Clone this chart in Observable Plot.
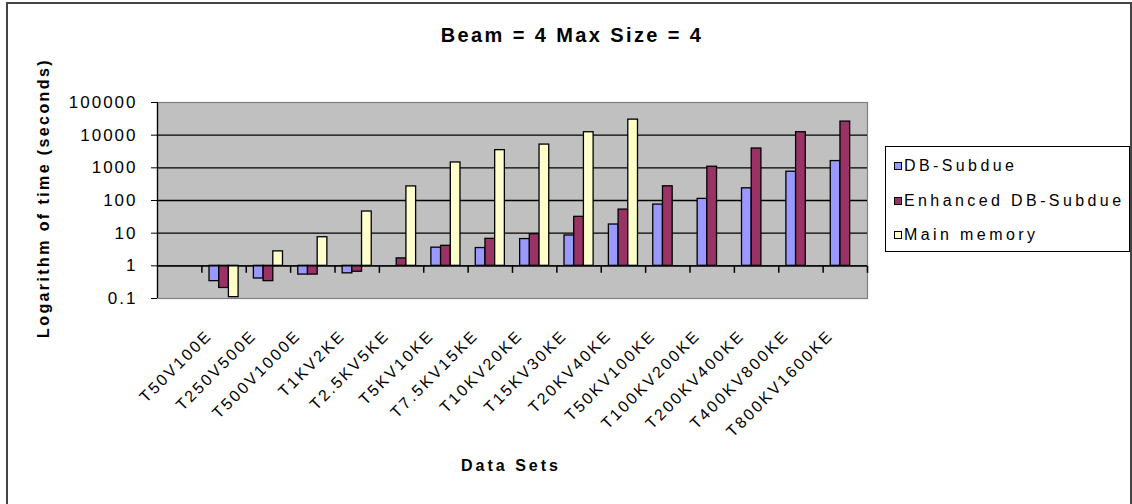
<!DOCTYPE html>
<html>
<head>
<meta charset="utf-8">
<script src="https://cdn.jsdelivr.net/npm/d3@7"></script>
<script src="https://cdn.jsdelivr.net/npm/@observablehq/plot@0.6"></script>
<style>
  body { margin: 0; background: #fff; }
  #chart { position: relative; width: 1132px; height: 504px; overflow: hidden;
           font-family: "Liberation Sans", Arial, sans-serif; color: #000; }
  #chart svg { position: absolute; left: 0; top: 0; }
  #outer { position: absolute; left: 6px; top: 2px; width: 1126px; height: 520px;
           border: 2px solid #444; box-sizing: border-box; }
  .abs { position: absolute; white-space: nowrap; }
  #title { left: 572px; top: 24px; transform: translateX(-50%); font-weight: bold;
           font-size: 20px; letter-spacing: 2.4px; }
  #ylabel { left: 44px; top: 198px; transform: translate(-50%, -50%) rotate(-90deg);
            font-weight: bold; font-size: 16px; letter-spacing: 2.4px; }
  #xlabel { left: 511px; top: 457px; transform: translateX(-50%); font-weight: bold;
            font-size: 16px; letter-spacing: 3px; }
  #legend { left: 885px; top: 146px; width: 245px; height: 106px; border: 1px solid #000;
            box-sizing: border-box; background: #fff; }
  .item { position: absolute; left: 8px; height: 20px; font-size: 16px; letter-spacing: 3.4px;
          line-height: 20px; }
  .sw { display: inline-block; width: 8px; height: 8px; border: 1px solid #000;
        margin-right: 2px; vertical-align: 1px; box-sizing: border-box; }
  [aria-label="y-axis tick label"] text { letter-spacing: 2px; }
  .xlab text { letter-spacing: 2.4px; }
</style>
</head>
<body>
<div id="chart">
  <div id="outer"></div>
</div>
<script>
// ---- data ----
const categories = ["T50V100E","T250V500E","T500V1000E","T1KV2KE","T2.5KV5KE","T5KV10KE",
  "T7.5KV15KE","T10KV20KE","T15KV30KE","T20KV40KE","T50KV100KE","T100KV200KE",
  "T200KV400KE","T400KV800KE","T800KV1600KE"];
const seriesNames = ["DB-Subdue", "Enhanced DB-Subdue", "Main memory"];
const dbSubdue   = [0.34, 0.41, 0.54, 0.59, null, 3.6, 3.5, 6.6, 8.5, 18.4, 75, 112, 236, 760, 1610];
const enhanced   = [0.21, 0.34, 0.54, 0.66, 1.69, 4.1, 6.7, 9.3, 31.6, 52.7, 272, 1080, 3900, 12300, 26000];
const mainMemory = [0.11, 2.77, 7.5, 46, 270, 1460, 3480, 5150, 12300, 29900, null, null, null, null, null];
const yTicks = [0.1, 1, 10, 100, 1000, 10000, 100000];
const colors = ["#9999ff", "#993366", "#ffffcc"];

// ---- layout ----
const W = 1132, H = 504;
const mL = 157, mR = 265, mT = 102, mB = 206;
const domainX = [""].concat(categories);       // an empty first category, as in the sheet
const step = (W - mL - mR) / domainX.length;
const barW = 9.7;
const gap = (step - 3 * barW) / 2;
const decadePx = (H - mT - mB) / Math.log10(yTicks[yTicks.length - 1] / yTicks[0]);
const tickLenPx = 7;
const tickEnd = Math.pow(10, -tickLenPx / decadePx);   // value 7px below the baseline 1
const boundaries = categories.map(c => ({cat: c, side: -1}))
  .concat([{cat: categories[categories.length - 1], side: 1}]);

const table = [];
[dbSubdue, enhanced, mainMemory].forEach((vals, s) => {
  vals.forEach((v, i) => { if (v != null) table.push({cat: categories[i], series: seriesNames[s], s, value: v}); });
});

const barMarks = seriesNames.map((name, s) =>
  Plot.rectY(table.filter(d => d.s === s), {
    x: "cat", y1: 1, y2: "value",
    fill: colors[s], stroke: "#000", strokeWidth: 1.3,
    insetLeft: gap + s * barW, insetRight: step - gap - (s + 1) * barW
  })
);

const plot = Plot.plot({
  width: W, height: H,
  marginLeft: mL, marginRight: mR, marginTop: mT, marginBottom: mB,
  style: {fontFamily: '"Liberation Sans", Arial, sans-serif', background: "transparent", color: "#000"},
  x: {type: "band", domain: domainX, paddingInner: 0, paddingOuter: 0, round: false, axis: null},
  y: {type: "log", domain: [0.1, 100000], axis: null},
  marks: [
    Plot.frame({fill: "#c0c0c0", stroke: "#808080", strokeWidth: 1.2}),
    Plot.ruleY([1, 10, 100, 1000, 10000], {stroke: "#000", strokeWidth: 1.3}),
    ...barMarks,
    Plot.ruleY([1], {stroke: "#000", strokeWidth: 1.3}),
    Plot.ruleX([domainX[0]], {x: d => d, dx: -step / 2, stroke: "#000", strokeWidth: 1.3}),
    Plot.link(boundaries.filter(b => b.side < 0), {x1: "cat", x2: "cat", y1: () => 1, y2: () => tickEnd,
              dx: -step / 2, stroke: "#000", strokeWidth: 1.5}),
    Plot.link(boundaries.filter(b => b.side > 0), {x1: "cat", x2: "cat", y1: () => 1, y2: () => tickEnd,
              dx: step / 2, stroke: "#000", strokeWidth: 1.5}),
    Plot.axisY({ticks: yTicks, tickFormat: d => String(d), tickSize: 6, tickPadding: 14,
                fontSize: 17, label: null, stroke: "#000"}),
    Plot.text(categories, {x: d => d, frameAnchor: "bottom", dy: 38, dx: -11, rotate: -45,
                textAnchor: "end", lineAnchor: "bottom", fontSize: 16, className: "xlab"})
  ]
});
const chart = document.getElementById("chart");
chart.appendChild(plot);

function addDiv(id, text) {
  const d = document.createElement("div");
  d.className = "abs"; d.id = id; d.textContent = text;
  chart.appendChild(d);
  return d;
}
addDiv("title", "Beam = 4 Max Size = 4");
addDiv("ylabel", "Logarithm of time (seconds)");
addDiv("xlabel", "Data Sets");
const leg = document.createElement("div");
leg.className = "abs"; leg.id = "legend";
seriesNames.forEach((name, s) => {
  const it = document.createElement("div");
  it.className = "item";
  it.style.top = (9 + s * 34.5) + "px";
  const sw = document.createElement("span");
  sw.className = "sw"; sw.style.background = colors[s];
  it.appendChild(sw);
  it.appendChild(document.createTextNode(name));
  leg.appendChild(it);
});
chart.appendChild(leg);
</script>
</body>
</html>
